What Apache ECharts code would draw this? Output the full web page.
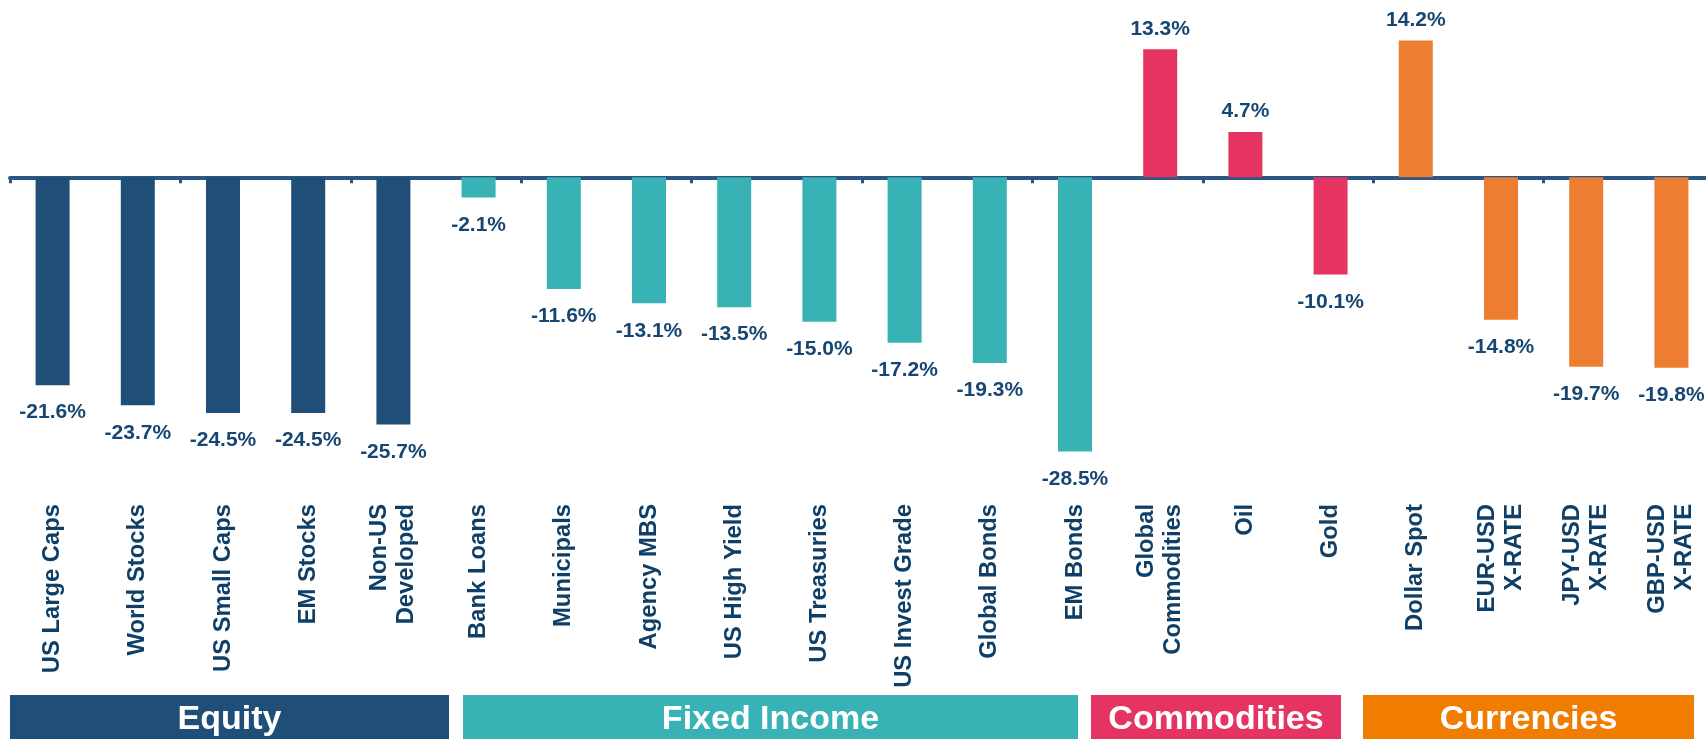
<!DOCTYPE html>
<html>
<head>
<meta charset="utf-8">
<script src="https://cdn.jsdelivr.net/npm/echarts@6/dist/echarts.min.js"></script>
<style>
  html, body { margin: 0; padding: 0; background: #fff; }
  #chart { width: 1706px; height: 739px; }
</style>
</head>
<body>
<div id="chart"></div>
<script>
// categories and returns (%)
const categories = [
  "US Large Caps", "World Stocks", "US Small Caps", "EM Stocks", "Non-US\nDeveloped",
  "Bank Loans", "Municipals", "Agency MBS", "US High Yield", "US Treasuries",
  "US Invest Grade", "Global Bonds", "EM Bonds",
  "Global\nCommodities", "Oil", "Gold",
  "Dollar Spot", "EUR-USD\nX-RATE", "JPY-USD\nX-RATE", "GBP-USD\nX-RATE"
];
const values = [
  -21.6, -23.7, -24.5, -24.5, -25.7,
  -2.1, -11.6, -13.1, -13.5, -15.0, -17.2, -19.3, -28.5,
  13.3, 4.7, -10.1,
  14.2, -14.8, -19.7, -19.8
];
// group index of each category
const groups = [0, 0, 0, 0, 0, 1, 1, 1, 1, 1, 1, 1, 1, 2, 2, 2, 3, 3, 3, 3];
const groupNames = ["Equity", "Fixed Income", "Commodities", "Currencies"];

const barColors = ["#1F4E79", "#38B2B5", "#E63462", "#ED7D31"];
const bandColors = ["#1F4E79", "#38B2B5", "#E63462", "#F07D00"];
const FONT = "'Liberation Sans', Arial, sans-serif";
const NAVY = "#174672";

const chart = echarts.init(document.getElementById("chart"));

const barData = values.map(function (v, i) {
  return {
    value: v,
    itemStyle: { color: barColors[groups[i]] },
    label: {
      position: v >= 0 ? "top" : "bottom",
      distance: v >= 0 ? 10 : 17
    }
  };
});

// group bands along the bottom
const bands = [
  { x: 10, w: 439 },
  { x: 463, w: 615 },
  { x: 1091, w: 250 },
  { x: 1363, w: 331 }
];
const graphics = [];
bands.forEach(function (b, i) {
  graphics.push({
    type: "rect",
    left: b.x, top: 695,
    shape: { width: b.w, height: 50 },
    style: { fill: bandColors[i] }
  });
  graphics.push({
    type: "text",
    x: b.x + b.w / 2, y: 720,
    style: {
      text: groupNames[i],
      fill: "#fff",
      font: "bold 34px " + FONT,
      textAlign: "center",
      textVerticalAlign: "middle"
    }
  });
});

chart.setOption({
  animation: false,
  grid: { left: 10, width: 1704, top: 4, height: 462, outerBoundsMode: "none" },
  xAxis: [
    {
      type: "category",
      data: categories,
      axisLine: { onZero: true, lineStyle: { color: "#2C5783", width: 4 } },
      axisTick: { show: true, length: 6, lineStyle: { color: "#2C5783", width: 3 } },
      axisLabel: { show: false }
    },
    {
      type: "category",
      position: "bottom",
      data: categories,
      axisLine: { show: false, onZero: false },
      axisTick: { show: false },
      axisLabel: {
        rotate: 90,
        margin: 38,
        interval: 0,
        color: "#0F3F66",
        fontFamily: FONT,
        fontWeight: "bold",
        fontSize: 23.8,
        lineHeight: 27
      }
    }
  ],
  yAxis: {
    type: "value",
    min: -30,
    max: 18,
    show: false,
    splitLine: { show: false }
  },
  series: [
    {
      type: "bar",
      barWidth: 34,
      data: barData,
      label: {
        show: true,
        color: NAVY,
        fontFamily: FONT,
        fontWeight: "bold",
        fontSize: 21,
        formatter: function (p) { return p.value.toFixed(1) + "%"; }
      }
    }
  ],
  graphic: graphics
});
</script>
</body>
</html>
